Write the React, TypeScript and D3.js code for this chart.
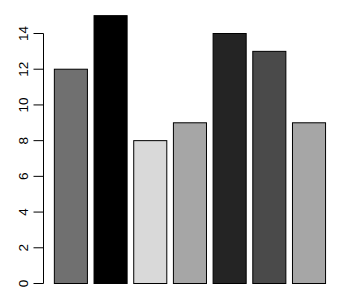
import React from "react";
import * as d3 from "d3";

const categories = ["A", "B", "C", "D", "E", "F", "G"];
const values = [12, 15, 8, 9, 14, 13, 9];
const colors = ["#707070", "#000000", "#d9d9d9", "#a6a6a6", "#242424", "#4a4a4a", "#a6a6a6"];
const yTicks = [0, 2, 4, 6, 8, 10, 12, 14];

export default function App() {
  const W = 341, H = 301;
  const plotLeft = 43.5, plotRight = 336.4;
  const n = categories.length;
  const width = 1, space = 0.2;
  const xMin = space - 0.04 * (n * (width + space)) / 1;
  const totalR = n * (width + space);
  const ext = 0.04 * (totalR - space);
  const x = d3.scaleLinear().domain([space - ext, totalR + ext]).range([plotLeft, plotRight]);
  const y = d3.scaleLinear().domain([0, 14]).range([283.5, 33.5]);
  void xMin;
  const axisX = 43.5;
  return (
    <svg width={W} height={H} style={{ position: "absolute", left: 0, top: 0 }}>
      <rect width={W} height={H} fill="#fff" />
      {values.map((v, i) => {
        const l = x(space + i * (width + space));
        const r = x(space + i * (width + space) + width);
        return (
          <rect key={categories[i]} x={l} y={y(v)} width={r - l} height={y(0) - y(v)}
            fill={colors[i]} stroke="#000" strokeWidth={1} />
        );
      })}
      <line x1={axisX} x2={axisX} y1={y(0)} y2={y(14)} stroke="#000" strokeWidth={1} />
      {yTicks.map(t => (
        <g key={t}>
          <line x1={axisX - 10} x2={axisX} y1={y(t)} y2={y(t)} stroke="#000" strokeWidth={1} />
          <text x={28} y={y(t)} transform={`rotate(-90, 28, ${y(t)})`} textAnchor="middle"
            fontFamily="Liberation Sans, Arial, sans-serif" fontSize={13.5} fill="#000">{t}</text>
        </g>
      ))}
    </svg>
  );
}
